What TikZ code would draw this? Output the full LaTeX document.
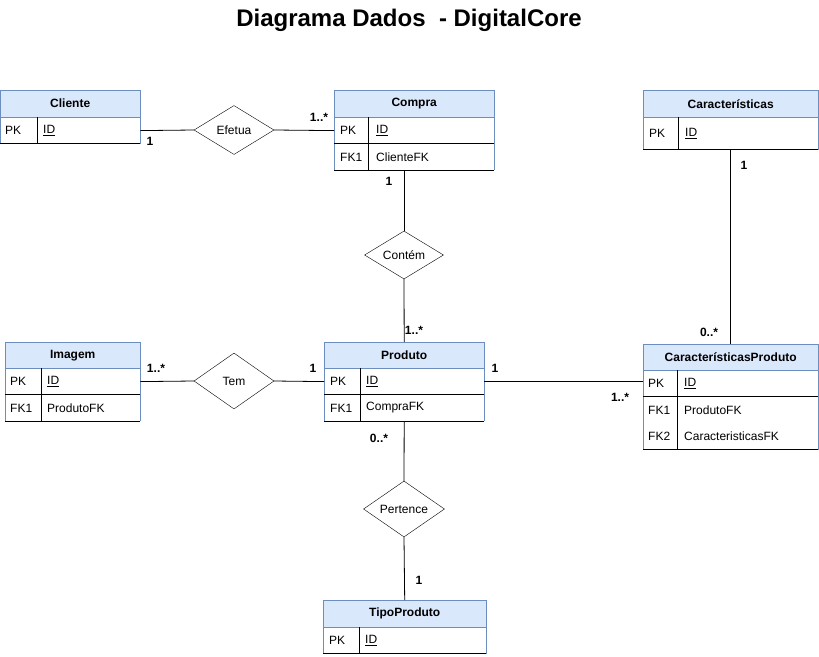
\documentclass[tikz,border=0pt]{standalone}
\usepackage{fontspec}
\setmainfont{Liberation Sans}
\usetikzlibrary{shapes.geometric,calc}
\definecolor{hfill}{HTML}{DAE8FC}
\definecolor{bord}{HTML}{6C8EBF}
\tikzset{
  hdr/.style={draw=bord, fill=hfill, font=\fontsize{12}{14}\selectfont\bfseries, inner sep=0pt, anchor=north west, minimum height=27pt},
  rowbox/.style={inner sep=0pt, anchor=north west, minimum height=26pt},
  cell/.style={inner sep=0pt, anchor=west},
  rel/.style={draw, shape=diamond, aspect=1.67, inner sep=0pt},
  card/.style={inner sep=0pt, font=\fontsize{12}{14}\selectfont\bfseries},
  conn/.style={draw=black, line width=0.8pt}
}
\newcommand\erframe[3]{%
  \draw[bord, line width=0.8pt] (#1.north west) -- (#2.south west);
  \draw[bord, line width=0.8pt] (#1.north east) -- (#2.south east);
  \draw[line width=0.8pt] (#1.south west) -- (#1.south east);
  \draw[line width=0.8pt] (#2.south west) -- (#2.south east);
  \draw[line width=0.8pt] ([xshift=#3]#1.north west) -- ([xshift=#3]#2.south west);
}
\begin{document}
\begin{tikzpicture}[x=1pt,y=-1pt, font=\fontsize{12}{14}\selectfont]
\useasboundingbox (0,0) rectangle (819,656);

\node[font=\fontsize{24}{28}\selectfont\bfseries] (title) at (409,20) {Diagrama Dados\ \ - DigitalCore};

% Cliente
\node[hdr, minimum width=140pt] (cli) at (0,90) {Cliente};
\node[rowbox, minimum width=140pt] (cli1) at (cli.south west) {};
\erframe{cli1}{cli1}{37pt}
\node[cell] at ([xshift=5pt]cli1.west) {PK};
\node[cell] at ([xshift=43pt]cli1.west) {\underline{ID}};

% Compra
\node[hdr, minimum width=160pt] (com) at (334,90) {Compra};
\node[rowbox, minimum width=160pt] (com1) at (com.south west) {};
\node[rowbox, minimum width=160pt] (com2) at (com1.south west) {};
\erframe{com1}{com2}{34pt}
\node[cell] at ([xshift=6pt]com1.west) {PK};
\node[cell] at ([xshift=42pt]com1.west) {\underline{ID}};
\node[cell] at ([xshift=6pt]com2.west) {FK1};
\node[cell] at ([xshift=42pt]com2.west) {ClienteFK};

% Caracteristicas
\node[hdr, minimum width=175pt] (car) at (643,90) {Características};
\node[rowbox, minimum width=175pt, minimum height=32pt] (car1) at (car.south west) {};
\erframe{car1}{car1}{35pt}
\node[cell] at ([xshift=6pt]car1.west) {PK};
\node[cell] at ([xshift=42pt]car1.west) {\underline{ID}};

% Imagem
\node[hdr, minimum width=135pt, minimum height=26pt] (img) at (5,342) {Imagem};
\node[rowbox, minimum width=135pt] (img1) at (img.south west) {};
\node[rowbox, minimum width=135pt] (img2) at (img1.south west) {};
\erframe{img1}{img2}{36pt}
\node[cell] at ([xshift=5pt]img1.west) {PK};
\node[cell] at ([xshift=42pt]img1.west) {\underline{ID}};
\node[cell] at ([xshift=5pt]img2.west) {FK1};
\node[cell] at ([xshift=42pt]img2.west) {ProdutoFK};

% Produto
\node[hdr, minimum width=160pt, minimum height=26pt] (pro) at (324,342) {Produto};
\node[rowbox, minimum width=160pt] (pro1) at (pro.south west) {};
\node[rowbox, minimum width=160pt] (pro2) at (pro1.south west) {};
\erframe{pro1}{pro2}{36pt}
\node[cell] at ([xshift=6pt]pro1.west) {PK};
\node[cell] at ([xshift=42pt]pro1.west) {\underline{ID}};
\node[cell] at ([xshift=6pt]pro2.west) {FK1};
\node[cell] at ([xshift=42pt]pro2.west) {CompraFK};

% CaracteristicasProduto
\node[hdr, minimum width=175pt, minimum height=26pt] (cph) at (643,344) {CaracterísticasProduto};
\node[rowbox, minimum width=175pt] (cp1) at (cph.south west) {};
\node[rowbox, minimum width=175pt] (cp2) at (cp1.south west) {};
\node[rowbox, minimum width=175pt] (cp3) at (cp2.south west) {};
\erframe{cp1}{cp3}{34pt}
\node[cell] at ([xshift=5pt]cp1.west) {PK};
\node[cell] at ([xshift=41pt]cp1.west) {\underline{ID}};
\node[cell] at ([xshift=5pt]cp2.west) {FK1};
\node[cell] at ([xshift=41pt]cp2.west) {ProdutoFK};
\node[cell] at ([xshift=5pt]cp3.west) {FK2};
\node[cell] at ([xshift=41pt]cp3.west) {CaracteristicasFK};

% TipoProduto
\node[hdr, minimum width=163pt] (tp) at (323,600) {TipoProduto};
\node[rowbox, minimum width=163pt] (tp1) at (tp.south west) {};
\erframe{tp1}{tp1}{36pt}
\node[cell] at ([xshift=6pt]tp1.west) {PK};
\node[cell] at ([xshift=42pt]tp1.west) {\underline{ID}};

% relationships
\node[rel, minimum width=80pt, minimum height=49pt] (efe) at (234,130) {Efetua};
\node[rel, minimum width=79pt, minimum height=48pt] (cont) at (404,255) {Contém};
\node[rel, minimum width=80pt, minimum height=56pt] (tem) at (234,381) {Tem};
\node[rel, minimum width=81pt, minimum height=56pt] (per) at (404,509) {Pertence};

% connectors
\draw[conn] (cli1.east) -- (efe.west);
\draw[conn] (efe.east) -- (com1.west);
\draw[conn] (cont.north |- com2.south) -- (cont.north);
\draw[conn] (cont.south) -- (pro.north);
\draw[conn] (img1.east) -- (tem.west);
\draw[conn] (tem.east) -- (pro1.west);
\draw[conn] (pro1.east) -- (pro1.east -| cp1.west);
\draw[conn] (car1.south) -- (cph.north);
\draw[conn] (pro2.south) -- (per.north);
\draw[conn] (per.south) -- (tp.north);

% cardinalities
\node[card] (c1) at (150,141) {1};
\node[card] (c2) at (319,117) {1..*};
\node[card] (c3) at (389,181) {1};
\node[card] (c4) at (414,330) {1..*};
\node[card] (c5) at (156,368) {1..*};
\node[card] (c6) at (313,368) {1};
\node[card] (c7) at (495,368) {1};
\node[card] (c8) at (620,397) {1..*};
\node[card] (c9) at (744,165) {1};
\node[card] (c10) at (709,332) {0..*};
\node[card] (c11) at (379,438) {0..*};
\node[card] (c12) at (419,580) {1};
\end{tikzpicture}
\end{document}
